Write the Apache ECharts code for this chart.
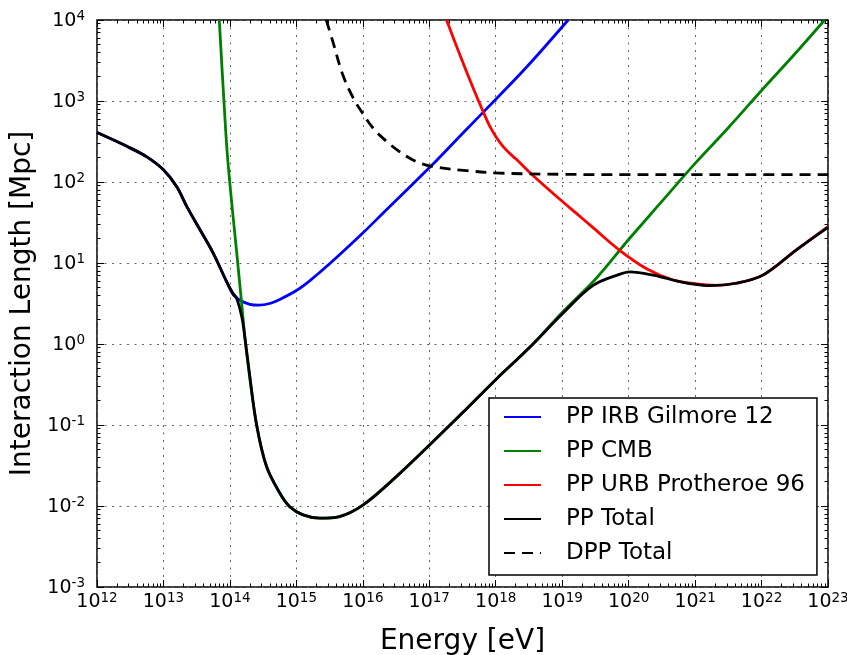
<!DOCTYPE html>
<html><head><meta charset="utf-8">
<script src="https://cdn.jsdelivr.net/npm/echarts@6/dist/echarts.min.js"></script>
<style>html,body{margin:0;padding:0;background:#fff}#c{width:847px;height:655px}</style>
</head><body><div id="c"></div>
<script>
// ---- tick labels (exponents of 10) ----
const xExponents = [12,13,14,15,16,17,18,19,20,21,22,23];
const yExponents = [-3,-2,-1,0,1,2,3,4];
const minorMultipliers = [2,3,4,5,6,7,8,9];

// ---- series names ----
const seriesNames = ['PP IRB Gilmore 12','PP CMB','PP URB Protheroe 96','PP Total','DPP Total'];

// ---- data: log10(Energy/eV) and log10(Length/Mpc) ----
const irbLogE = [12.0,12.45,12.75,13.0,13.2,13.35,13.55,13.75,13.95,14.05,14.15,14.3,14.43,14.6,14.75,15.0,15.2,15.5,16.0,16.31,17.03,17.5,18.06,18.5,19.09];
const irbLogL = [2.61,2.44,2.31,2.15,1.94,1.70,1.41,1.12,0.77,0.61,0.54,0.49,0.48,0.50,0.55,0.66,0.78,0.99,1.37,1.62,2.20,2.60,3.07,3.45,4.0];

const cmbLogE = [13.84,13.91,13.97,14.12,14.17,14.25,14.4,14.55,14.75,14.9,15.1,15.35,15.65,16.0,16.5,17.0,17.5,18.0,18.5,19.0,19.5,20.0,20.5,21.0,21.5,22.0,22.5,22.95];
const cmbLogL = [4.0,3.0,2.25,0.98,0.56,-0.10,-0.99,-1.51,-1.84,-2.01,-2.11,-2.15,-2.13,-1.99,-1.64,-1.25,-0.85,-0.44,-0.05,0.39,0.80,1.29,1.76,2.23,2.67,3.13,3.58,4.0];

const urbLogE = [17.26,17.46,17.66,17.81,17.91,18.01,18.1,18.2,18.31,18.56,18.96,19.21,19.46,19.86,20.27,20.67,21.0,21.3,21.62,22.02,22.52,23.0];
const urbLogL = [4.0,3.57,3.16,2.87,2.69,2.55,2.45,2.36,2.28,2.08,1.79,1.615,1.44,1.16,0.93,0.79,0.745,0.725,0.75,0.85,1.16,1.45];

const totLogE = [12.0,12.45,12.75,13.0,13.2,13.35,13.55,13.75,13.95,14.05,14.1,14.18,14.23,14.3,14.4,14.55,14.75,14.9,15.1,15.35,15.65,16.0,16.5,17.0,17.5,18.0,18.5,19.0,19.46,19.86,20.02,20.37,20.77,21.0,21.22,21.62,22.02,22.52,23.0];
const totLogL = [2.61,2.44,2.31,2.15,1.94,1.70,1.41,1.12,0.77,0.62,0.57,0.33,0.05,-0.40,-0.99,-1.51,-1.84,-2.01,-2.11,-2.15,-2.13,-1.99,-1.64,-1.25,-0.85,-0.44,-0.05,0.37,0.72,0.86,0.89,0.85,0.77,0.735,0.72,0.75,0.85,1.16,1.44];

const dppLogE = [15.45,15.55,15.70,15.86,15.98,16.16,16.36,16.56,16.81,17.06,17.56,18.06,19.0,20.0,21.0,22.0,23.0];
const dppLogL = [4.0,3.73,3.32,3.03,2.87,2.66,2.50,2.37,2.25,2.19,2.14,2.11,2.095,2.09,2.09,2.09,2.09];

// ---- build ----
const pow10 = e => Number('1e' + e);
const pairs = (le, ll) => le.map((e, i) => [Math.pow(10, e), Math.pow(10, ll[i])]);
const xMajor = xExponents.map(pow10);
const yMajor = yExponents.map(pow10);
// keep end values a hair inside the extent so they are not filtered out
const inside = arr => arr.map((v, i) => i === arr.length - 1 ? v * (1 - 1e-9) : (i === 0 ? v * (1 + 1e-9) : v));
const xMajorIn = inside(xMajor);
const yMajorIn = inside(yMajor);
const minorOf = exps => {
  const out = [];
  for (let i = 0; i < exps.length - 1; i++) minorMultipliers.forEach(m => out.push(m * pow10(exps[i])));
  return out;
};
const xMinor = minorOf(xExponents);
const yMinor = minorOf(yExponents);

const FONT = 'DejaVu Sans';
const rich = {
  b: {fontSize: 19, fontFamily: FONT, color: '#000', lineHeight: 21, verticalAlign: 'bottom'},
  s: {fontSize: 13.5, fontFamily: FONT, color: '#000', lineHeight: 13.5, verticalAlign: 'top', padding: [0,0,10.5,0]}
};
const fmt = v => '{b|10}{s|' + Math.round(Math.log10(v)) + '}';
const gridLine = {show: true, lineStyle: {color: '#666', width: 1, type: [2, 5.5]}};

function axis(dim, pos, major, labels) {
  const isX = dim === 'x';
  return {
    type: 'log', logBase: 10,
    min: isX ? xMajor[0] : yMajor[0], max: isX ? xMajor[xMajor.length-1] : yMajor[yMajor.length-1],
    position: pos,
    axisLine: {show: false},
    axisTick: {show: true, inside: true, length: major ? 7 : 3.5,
      lineStyle: {color: '#000', width: 1},
      customValues: major ? (isX ? xMajorIn : yMajorIn) : (isX ? xMinor : yMinor)},
    axisLabel: labels ? {show: true, formatter: fmt, rich: rich, margin: isX ? 4 : 12,
      showMinLabel: true, showMaxLabel: true, customValues: isX ? xMajorIn : yMajorIn, hideOverlap: false} : {show: false},
    splitLine: labels ? gridLine : {show: false},
    minorTick: {show: false}, minorSplitLine: {show: false},
    name: labels ? (isX ? 'Energy [eV]' : 'Interaction Length [Mpc]') : '',
    nameLocation: 'middle',
    nameGap: isX ? 41 : 60,
    nameTextStyle: {fontFamily: FONT, fontSize: 28, color: '#000'}
  };
}

const lineSeries = (name, data, color, extra) => Object.assign({
  name, type: 'line', data, symbol: 'none', smooth: 0.35,
  xAxisIndex: 0, yAxisIndex: 0, clip: true,
  lineStyle: {color, width: 2.8}, itemStyle: {color}, z: 3
}, extra || {});

const option = {
  animation: false,
  backgroundColor: '#fff',
  grid: {left: 97, right: 19, top: 20, bottom: 68, show: true, borderColor: '#000', borderWidth: 1.5,
    backgroundColor: 'transparent', containLabel: false, outerBoundsMode: 'none'},
  xAxis: [axis('x','bottom',true,true), axis('x','bottom',false,false), axis('x','top',true,false), axis('x','top',false,false)],
  yAxis: [axis('y','left',true,true), axis('y','left',false,false), axis('y','right',true,false), axis('y','right',false,false)],
  legend: {
    orient: 'vertical', left: 489, top: 398,
    padding: [7, 12, 10, 14], itemGap: 10, itemWidth: 37, itemHeight: 14,
    backgroundColor: '#fff', borderColor: '#000', borderWidth: 1.5, borderRadius: 0,
    itemStyle: {opacity: 0},
    textStyle: {fontFamily: FONT, fontSize: 23, color: '#000', lineHeight: 24, padding: [0,0,0,20]},
    data: seriesNames
  },
  series: [
    lineSeries(seriesNames[0], pairs(irbLogE, irbLogL), '#0000ff'),
    lineSeries(seriesNames[1], pairs(cmbLogE, cmbLogL), '#008000'),
    lineSeries(seriesNames[2], pairs(urbLogE, urbLogL), '#ff0000'),
    lineSeries(seriesNames[3], pairs(totLogE, totLogL), '#000000'),
    lineSeries(seriesNames[4], pairs(dppLogE, dppLogL), '#000000', {lineStyle: {color: '#000', width: 2.8, type: [11, 7]}})
  ]
};
const chart = echarts.init(document.getElementById('c'), null, {renderer: 'canvas'});
chart.setOption(option);
</script></body></html>
